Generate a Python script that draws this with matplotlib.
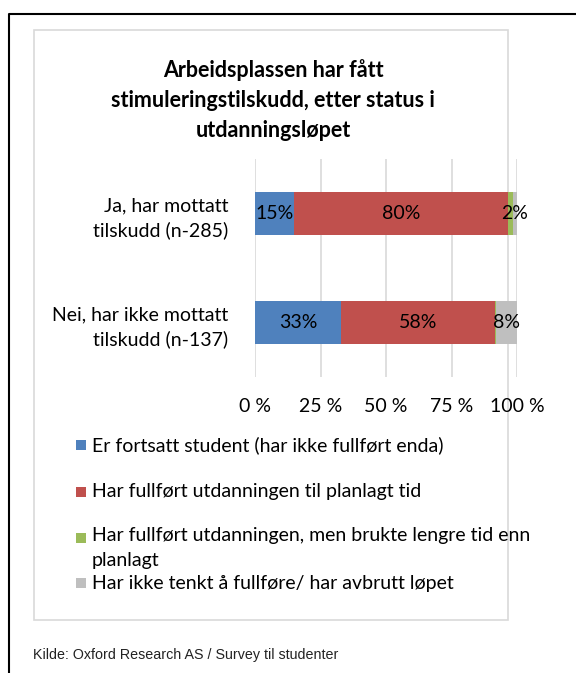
import matplotlib.pyplot as plt
from matplotlib.patches import Rectangle
from matplotlib.lines import Line2D

# Data (shares in %, 100 % stacked like the Excel original)
categories = ['Ja, har mottatt\ntilskudd (n-285)', 'Nei, har ikke mottatt\ntilskudd (n-137)']
series_names = ['Er fortsatt student (har ikke fullført enda)',
                'Har fullført utdanningen til planlagt tid',
                'Har fullført utdanningen, men brukte lengre tid enn\nplanlagt',
                'Har ikke tenkt å fullføre/ har avbrutt løpet']
still_student = [15, 33]
finished_on_time = [81.5, 58.5]
finished_late = [1.8, 0.5]
dropped_out = [1.7, 8.0]
value_labels = [['15%', '33%'], ['80%', '58%'], ['', ''], ['2%', '8%']]
x_ticks = [0, 25, 50, 75, 100]
x_ticklabels = ['0 %', '25 %', '50 %', '75 %', '100 %']
title = 'Arbeidsplassen har fått\nstimuleringstilskudd, etter status i\nutdanningsløpet'
source = 'Kilde: Oxford Research AS / Survey til studenter'

colors = ['#4F81BD', '#C0504D', '#9BBB59', '#BFBFBF']
grid_color = '#D9D9D9'
FONT = ['Lato', 'DejaVu Sans']

W, H = 576, 673
fig = plt.figure(figsize=(W / 100, H / 100), dpi=100)

def fx(px):
    return px / W

def fy(py):
    return 1 - py / H

# outer document frame and inner chart box (kept behind the axes)
fig.add_artist(Line2D([fx(9), fx(9), fx(580)], [fy(680), fy(14), fy(14)],
                      color='black', lw=1.5, transform=fig.transFigure, zorder=-10))
fig.add_artist(Rectangle((fx(34), fy(620)), fx(508) - fx(34), fy(30) - fy(620),
                         transform=fig.transFigure, facecolor='white',
                         edgecolor=grid_color, lw=1.2, zorder=-10))

fig.text(fx(273), fy(100), title, ha='center', va='center', fontsize=15.5,
         fontweight='bold', family=FONT, linespacing=1.55)

ax = fig.add_axes([fx(255), fy(377), fx(517) - fx(255), fy(159) - fy(377)])
ax.patch.set_visible(False)
ypos = [0, 1]
left = [0, 0]
all_series = [still_student, finished_on_time, finished_late, dropped_out]
for vals, col, labs in zip(all_series, colors, value_labels):
    bars = ax.barh(ypos, vals, left=left, height=0.4, color=col, zorder=3)
    ax.bar_label(bars, labels=labs, label_type='center', fontsize=14,
                 family=FONT, color='black')
    left = [l + v for l, v in zip(left, vals)]

ax.set_xlim(0, 100)
ax.set_ylim(1.5, -0.5)
ax.set_xticks(x_ticks)
ax.set_xticklabels(x_ticklabels, fontsize=14, family=FONT)
ax.set_yticks(ypos)
ax.set_yticklabels(categories, fontsize=14, family=FONT, linespacing=1.45)
ax.tick_params(axis='both', length=0)
ax.tick_params(axis='x', pad=15)
ax.tick_params(axis='y', pad=19)
ax.grid(axis='x', color=grid_color, lw=1.2, zorder=0)
for s in ax.spines.values():
    s.set_visible(False)

# legend, laid out like the Excel one
legend_y = [445, 492, 538, 583]
for name, col, y in zip(series_names, colors, legend_y):
    fig.add_artist(Rectangle((fx(76), fy(y + 5)), fx(10), fy(0) - fy(10),
                             transform=fig.transFigure, facecolor=col, edgecolor='none'))
    if '\n' in name:
        fig.text(fx(92), fy(y - 11), name, ha='left', va='top',
                 fontsize=14, family=FONT, linespacing=1.6)
    else:
        fig.text(fx(92), fy(y), name, ha='left', va='center',
                 fontsize=14, family=FONT)

fig.text(fx(33), fy(655), source, ha='left', va='center', fontsize=10.3,
         family=['Liberation Sans Narrow', 'Liberation Sans', 'DejaVu Sans'], color='#222222')

fig.savefig('out.png', dpi=100)
